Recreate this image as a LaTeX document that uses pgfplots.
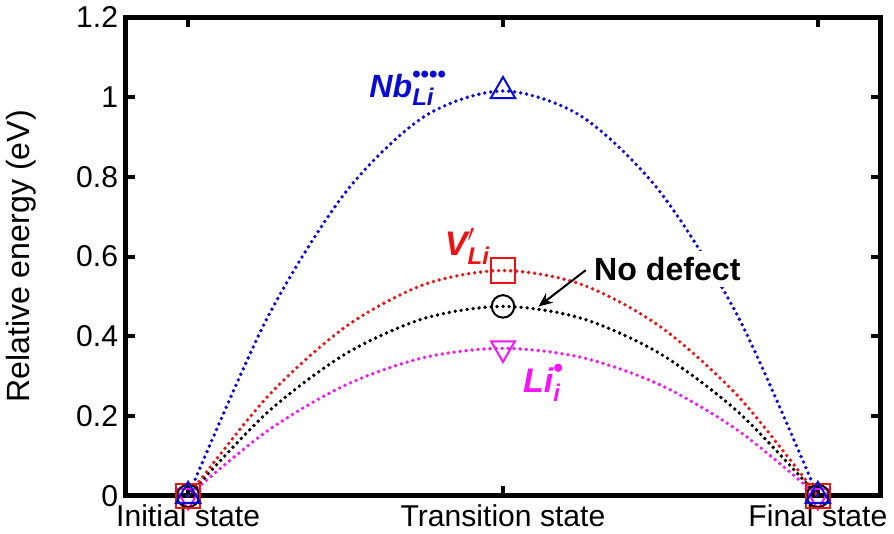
\documentclass[border=0pt]{standalone}
\usepackage{fontspec}
\setmainfont{Liberation Sans}
\usepackage{pgfplots}
\pgfplotsset{compat=1.18}
\usetikzlibrary{arrows.meta}
\definecolor{cblue}{RGB}{10,10,215}
\definecolor{cred}{RGB}{235,20,20}
\definecolor{cmag}{RGB}{245,20,245}
\newcommand{\fs}[1]{\fontsize{#1}{#1}\selectfont}
\begin{document}
\begin{tikzpicture}
\begin{axis}[
  scale only axis, width=376.5pt, height=238.5pt,
  xmin=-0.2, xmax=2.2, ymin=0, ymax=1.2,
  xtick={0,1,2}, xticklabels={Initial state, Transition state, Final state},
  ytick={0,0.2,0.4,0.6,0.8,1,1.2},
  yticklabels={0,0.2,0.4,0.6,0.8,1,1.2},
  tick align=inside, major tick length=5pt,
  axis line style={line width=2.4pt},
  tick style={line width=2pt, black},
  ylabel={Relative energy (eV)},
  every axis y label/.style={at={(axis description cs:-0.137,0.5)}, rotate=90, anchor=center},
  ticklabel style={font=\fs{15}},
  label style={font=\fs{16}},
  xticklabel style={yshift=-1pt},
  /pgf/number format/assume math mode=true,
  clip=false,
  every axis plot/.append style={line width=1.9pt, dash pattern=on 0pt off 3pt, line cap=round, smooth},
]
% magenta: Li_i
\addplot[cmag, mark=triangle, mark size=6.8pt, mark options={solid, rotate=180, line width=1pt}, mark indices={1,5,9}]
  coordinates {(0,0) (0.25,0.162) (0.5,0.278) (0.75,0.347) (1,0.37) (1.25,0.347) (1.5,0.278) (1.75,0.162) (2,0)};
% black: no defect
\addplot[black, mark=o, mark size=5.6pt, mark options={solid, line width=1pt}, mark indices={1,5,9}]
  coordinates {(0,0) (0.25,0.208) (0.5,0.356) (0.75,0.445) (1,0.475) (1.25,0.445) (1.5,0.356) (1.75,0.208) (2,0)};
% red: V_Li
\addplot[cred, mark=square, mark size=6pt, mark options={solid, line width=1pt}, mark indices={1,5,9}]
  coordinates {(0,0) (0.25,0.247) (0.5,0.424) (0.75,0.530) (1,0.565) (1.25,0.530) (1.5,0.424) (1.75,0.247) (2,0)};
% blue: Nb_Li
\addplot[cblue, mark=triangle, mark size=7pt, mark options={solid, line width=1pt}, mark indices={1,5,9}]
  coordinates {(0,0) (0.25,0.444) (0.5,0.761) (0.75,0.951) (1,1.015) (1.25,0.951) (1.5,0.761) (1.75,0.444) (2,0)};

\node[cblue, font=\fs{16}\bfseries\itshape] at (axis cs:0.699,1.021)
  {$\mbox{Nb}^{\mbox{\fs{12}\upshape ••••}}_{\mbox{\fs{12}Li}}$};
\node[cred, font=\fs{17}\bfseries\itshape] at (axis cs:0.887,0.626)
  {$\mbox{V}^{\prime}_{\mbox{\fs{12}Li}}$};
\node[cmag, font=\fs{17}\bfseries\itshape] at (axis cs:1.129,0.284)
  {$\mbox{Li}^{\mbox{\fs{14}\upshape •}}_{\mbox{\fs{12}i}}$};
\node[fill=white, inner sep=3pt, font=\fs{16}\bfseries] at (axis cs:1.522,0.569) {No defect};
\draw[-{Stealth[length=7pt,width=6pt]}, line width=1pt] (axis cs:1.263,0.566) -- (axis cs:1.113,0.475);
\end{axis}
\end{tikzpicture}
\end{document}
